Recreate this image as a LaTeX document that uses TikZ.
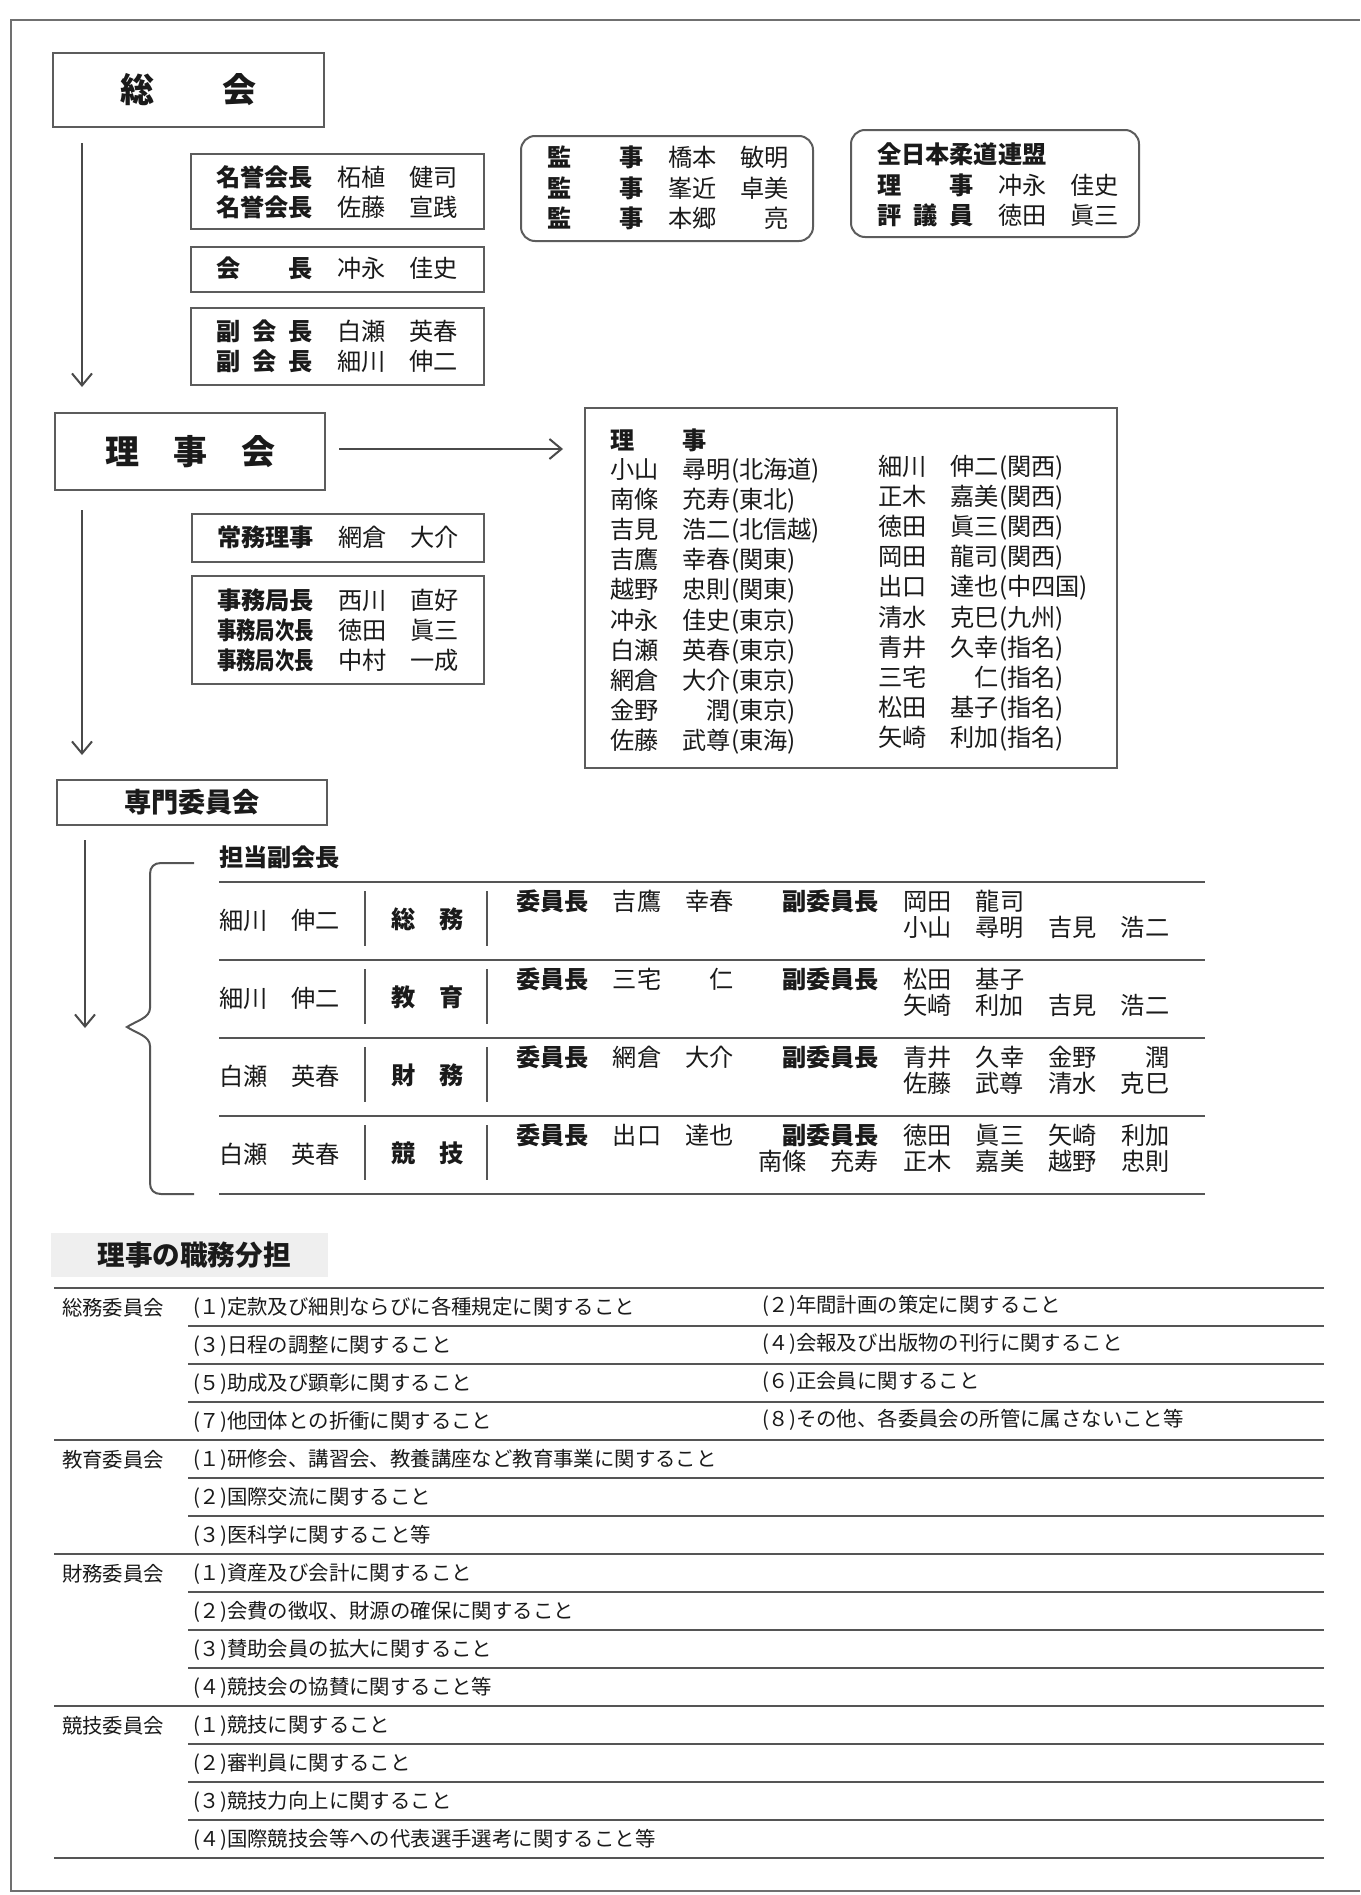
\documentclass[tikz,border=0pt]{standalone}
\usepackage{fontspec}
\usepackage{graphicx}
\usetikzlibrary{arrows.meta,fit}
\newfontfamily\jp{Noto Sans CJK JP}
\definecolor{ink}{HTML}{1A1A1A}
\definecolor{boxc}{HTML}{5C5C5C}
\definecolor{linec}{HTML}{4A4A4A}
\definecolor{rulec}{HTML}{555555}
\definecolor{framec}{HTML}{707070}
\definecolor{hdrbg}{HTML}{EFEFEF}
\newcommand\bb[1]{\textbf{#1}}
\newcommand\sprd[3]{\makebox[4em][l]{#1\hfill #2\hfill #3}}
\begin{document}
\begin{tikzpicture}[x=0.5pt,y=-0.5pt,
  lbl/.style={anchor=west,inner sep=0pt,outer sep=0pt,text=ink,font=\jp\fontsize{12.1pt}{14pt}\selectfont},
  sml/.style={lbl,font=\jp\fontsize{10.2pt}{12pt}\selectfont},
  ttl/.style={anchor=center,inner sep=0pt,text=ink,font=\jp\bfseries\fontsize{17pt}{20pt}\selectfont},
  box/.style={draw=boxc,line width=1pt,inner sep=0pt},
  rbox/.style={box,rounded corners=7pt},
  conn/.style={draw=linec,line width=1pt,-{Straight Barb[length=6pt,width=10pt]}},
  rule/.style={draw=rulec,line width=1pt},
  frm/.style={draw=framec,line width=1pt}]
\fill[white] (0,0) rectangle (1360,1895);
\useasboundingbox (0,0) rectangle (1360,1895);
% frame
\draw[frm] (1360,20) -- (11,20) -- (11,1891) -- (1360,1891);

% ---------- 総会 ----------
\node[box,fit={(53,53) (324,127)}] (sokai) {};
\node[ttl] (sokaiT) at (sokai.center) {総　　会};
\coordinate (a1s) at (82,143);
\coordinate (a1e) at (82,387);
\draw[conn] (a1s) -- (a1e);

\node[box,fit={(191,154) (484,229)}] (meiyo) {};
\node[lbl] (m1) at (216,177) {\bb{名誉会長}　柘植　健司};
\node[lbl] (m2) at (216,207) {\bb{名誉会長}　佐藤　宣践};

\node[box,fit={(191,247) (484,292)}] (kaicho) {};
\node[lbl] (k1) at (216,268) {\bb{\sprd{会}{}{長}}　冲永　佳史};

\node[box,fit={(191,308) (484,385)}] (fuku) {};
\node[lbl] (f1) at (216,331) {\bb{\sprd{副}{会}{長}}　白瀬　英春};
\node[lbl] (f2) at (216,361) {\bb{\sprd{副}{会}{長}}　細川　伸二};

\node[rbox,fit={(521,136) (813,241)}] (kansa) {};
\node[lbl] (ks1) at (547,157) {\bb{監　　事}　橋本　敏明};
\node[lbl] (ks2) at (547,188) {\bb{監　　事}　峯近　卓美};
\node[lbl] (ks3) at (547,218) {\bb{監　　事}　本郷　　亮};

\node[rbox,fit={(851,130) (1139,237)}] (zenjudo) {};
\node[lbl] (zj1) at (877,154) {\bb{全日本柔道連盟}};
\node[lbl] (zj2) at (877,185) {\bb{理　　事}　冲永　佳史};
\node[lbl] (zj3) at (877,215) {\bb{\sprd{評}{議}{員}}　徳田　眞三};

% ---------- 理事会 ----------
\node[box,fit={(55,413) (325,490)}] (rijikai) {};
\node[ttl] (rijikaiT) at (rijikai.center) {理　事　会};
\coordinate (h1) at (339,449);
\coordinate (h2) at (563,449);
\draw[conn] (h1) -- (h2);

\node[box,fit={(585,408) (1117,768)}] (rijibox) {};
\node[lbl] (rh) at (610,440) {\bb{理　　事}};
\foreach \t [count=\i] in {小山　尋明(北海道),南條　充寿(東北),吉見　浩二(北信越),吉鷹　幸春(関東),越野　忠則(関東),冲永　佳史(東京),白瀬　英春(東京),網倉　大介(東京),金野　　潤(東京),佐藤　武尊(東海)}
  \node[lbl] (rl\i) at (610,{440+30.2*\i}) {\t};
\foreach \t [count=\i] in {細川　伸二(関西),正木　嘉美(関西),徳田　眞三(関西),岡田　龍司(関西),出口　達也(中四国),清水　克巳(九州),青井　久幸(指名),三宅　　仁(指名),松田　基子(指名),矢崎　利加(指名)}
  \node[lbl] (rr\i) at (878,{437+30.2*\i}) {\t};

\coordinate (a2s) at (82,510);
\coordinate (a2e) at (82,755);
\draw[conn] (a2s) -- (a2e);

\node[box,fit={(192,514) (484,562)}] (jomu) {};
\node[lbl] (jm1) at (217,537) {\bb{常務理事}　網倉　大介};

\node[box,fit={(192,576) (484,684)}] (jimu) {};
\node[lbl] (jk1) at (217,600) {\bb{事務局長}　西川　直好};
\node[lbl] (jk2) at (217,630) {\bb{\scalebox{0.8}[1]{事務局次長}}　徳田　眞三};
\node[lbl] (jk3) at (217,660) {\bb{\scalebox{0.8}[1]{事務局次長}}　中村　一成};

% ---------- 専門委員会 ----------
\node[box,fit={(57,780) (327,825)}] (senmon) {};
\node[anchor=center,inner sep=0pt,text=ink,font=\jp\bfseries\fontsize{13.6pt}{16pt}\selectfont] (senmonT) at (senmon.center) {専門委員会};
\coordinate (a3s) at (85,840);
\coordinate (a3e) at (85,1028);
\draw[conn] (a3s) -- (a3e);

% brace
\draw[rule] (194,863) -- (161,863) .. controls (154,863) and (150,867) .. (150,874)
  -- (150,1008) .. controls (150,1018) and (136,1021) .. (127,1027)
  .. controls (136,1033) and (150,1036) .. (150,1046)
  -- (150,1183) .. controls (150,1190) and (154,1194) .. (161,1194) -- (194,1194);

\node[lbl] (tantou) at (219,857) {\bb{担当副会長}};
\foreach \y in {882,960,1038,1116,1194}
  \draw[rule] (219,\y) -- (1205,\y);
\foreach \y in {882,960,1038,1116} {
  \draw[rule] (365,{\y+9}) -- (365,{\y+64});
  \draw[rule] (487,{\y+9}) -- (487,{\y+64});
}
% row 0
\node[lbl] (cn0) at (219,920) {細川　伸二};
\node[lbl] (cc0) at (391,919) {\bb{総　務}};
\node[lbl] (ca0) at (516,901) {\bb{委員長}　吉鷹　幸春　　\bb{副委員長}　岡田　龍司};
\node[lbl] (cb0) at (903,927) {小山　尋明　吉見　浩二};
% row 1
\node[lbl] (cn1) at (219,998) {細川　伸二};
\node[lbl] (cc1) at (391,997) {\bb{教　育}};
\node[lbl] (ca1) at (516,979) {\bb{委員長}　三宅　　仁　　\bb{副委員長}　松田　基子};
\node[lbl] (cb1) at (903,1005) {矢崎　利加　吉見　浩二};
% row 2
\node[lbl] (cn2) at (219,1076) {白瀬　英春};
\node[lbl] (cc2) at (391,1075) {\bb{財　務}};
\node[lbl] (ca2) at (516,1057) {\bb{委員長}　網倉　大介　　\bb{副委員長}　青井　久幸　金野　　潤};
\node[lbl] (cb2) at (903,1083) {佐藤　武尊　清水　克巳};
% row 3
\node[lbl] (cn3) at (219,1154) {白瀬　英春};
\node[lbl] (cc3) at (391,1153) {\bb{競　技}};
\node[lbl] (ca3) at (516,1135) {\bb{委員長}　出口　達也　　\bb{副委員長}　徳田　眞三　矢崎　利加};
\node[lbl] (cb3) at (758,1161) {南條　充寿　正木　嘉美　越野　忠則};

% ---------- 理事の職務分担 ----------
\fill[hdrbg] (51,1233) rectangle (328,1277);
\node[anchor=west,inner sep=0pt,text=ink,font=\jp\bfseries\fontsize{13.8pt}{16pt}\selectfont] (bhdr) at (97,1255) {理事の職務分担};
\foreach \i in {1,2,3,5,6,8,9,10,12,13,14}
  \draw[rule] (188,{1288+38*\i}) -- (1324,{1288+38*\i});
\foreach \i in {0,4,7,11,15}
  \draw[rule] (54,{1288+38*\i}) -- (1324,{1288+38*\i});
\node[sml] (bl0) at (62,1308) {総務委員会};
\node[sml] (bl1) at (62,1460) {教育委員会};
\node[sml] (bl2) at (62,1574) {財務委員会};
\node[sml] (bl3) at (62,1726) {競技委員会};
\foreach \t [count=\i from 0] in {(１)定款及び細則ならびに各種規定に関すること,(３)日程の調整に関すること,(５)助成及び顕彰に関すること,(７)他団体との折衝に関すること,(１)研修会、講習会、教養講座など教育事業に関すること,(２)国際交流に関すること,(３)医科学に関すること等,(１)資産及び会計に関すること,(２)会費の徴収、財源の確保に関すること,(３)賛助会員の拡大に関すること,(４)競技会の協賛に関すること等,(１)競技に関すること,(２)審判員に関すること,(３)競技力向上に関すること,(４)国際競技会等への代表選手選考に関すること等}
  \node[sml] (bi\i) at (193,{1308+38*\i}) {\t};
\foreach \t [count=\i from 0] in {(２)年間計画の策定に関すること,(４)会報及び出版物の刊行に関すること,(６)正会員に関すること,(８)その他、各委員会の所管に属さないこと等}
  \node[sml] (br\i) at (762,{1306+38*\i}) {\t};
\end{tikzpicture}
\end{document}
